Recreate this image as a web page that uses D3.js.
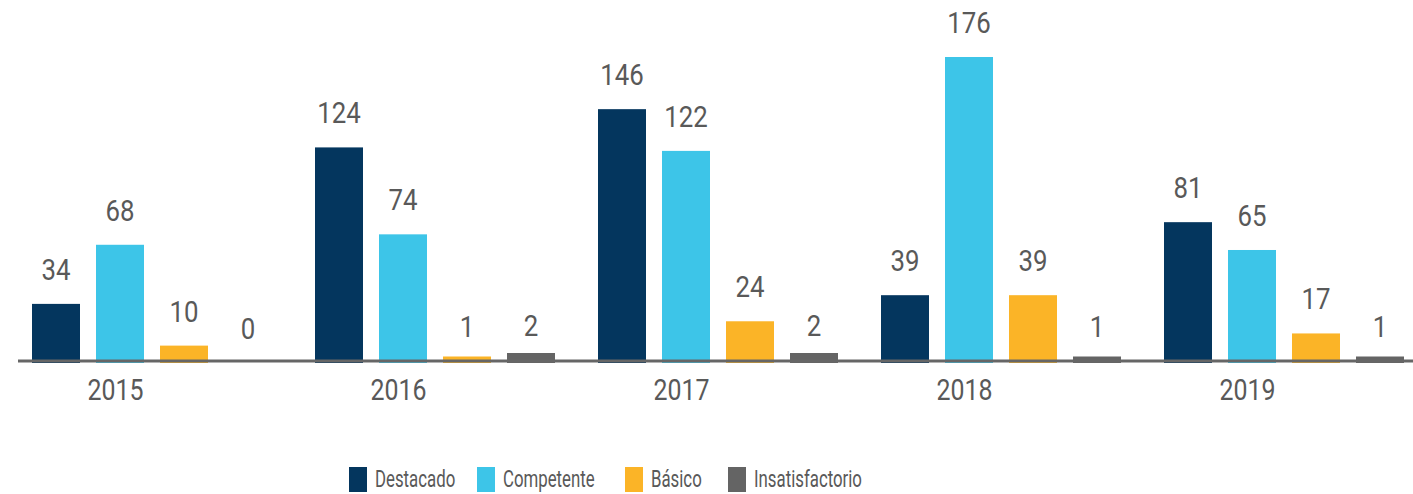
<!DOCTYPE html>
<html>
<head>
<meta charset="utf-8">
<script src="https://cdn.jsdelivr.net/npm/d3@7"></script>
<style>
  body { margin: 0; background: #fff; }
  svg text { font-family: "Roboto", "Liberation Sans", sans-serif; fill: #595959; }
</style>
</head>
<body>
<svg id="chart"></svg>
<script>
var width = 1413, height = 494

var years = ["2015", "2016", "2017", "2018", "2019"]
var series = ["Destacado", "Competente", "Básico", "Insatisfactorio"]
var destacado = [34, 124, 146, 39, 81]
var competente = [68, 74, 122, 176, 65]
var basico = [10, 1, 24, 39, 17]
var insatisfactorio = [0, 2, 2, 1, 1]
var colors = ["#04365e", "#3dc5e8", "#fbb427", "#646464"]

var values = [destacado, competente, basico, insatisfactorio]

var dataset = []
years.forEach(function(y, i) {
    series.forEach(function(s, j) {
        dataset.push({ year: y, serie: s, value: values[j][i], color: colors[j] })
    })
})

// squeeze text horizontally to look like the condensed font of the original
function condense(sel, k) {
    sel.each(function() {
        var l = this.getComputedTextLength()
        d3.select(this)
            .attr("textLength", l * k)
            .attr("lengthAdjust", "spacingAndGlyphs")
    })
}

var svg = d3.select("#chart")
    .attr("width", width)
    .attr("height", height)

var x0 = d3.scaleBand()
    .domain(years)
    .range([24, 24 + 283 * years.length])

var x1 = d3.scaleBand()
    .domain(series)
    .range([0, 256])
    .paddingInner(0.25)
    .paddingOuter(0.125)

var yScale = d3.scaleLinear()
    .domain([0, 176])
    .range([363, 57])

function barHeight(d) {
    var h = yScale(0) - yScale(d.value)
    if (d.value > 0 && h < 7) h = 3.5 * d.value + 3
    return h
}

// bars
svg.append("g")
    .selectAll("rect")
    .data(dataset)
    .enter()
    .append("rect")
    .attr("x", d => x0(d.year) + x1(d.serie))
    .attr("width", x1.bandwidth())
    .attr("y", d => yScale(0) - barHeight(d))
    .attr("height", barHeight)
    .style("fill", d => d.color)

// baseline
svg.append("line")
    .attr("x1", 18)
    .attr("x2", width)
    .attr("y1", 361)
    .attr("y2", 361)
    .style("stroke", "#666")
    .style("stroke-width", 3)

// value labels
svg.append("g")
    .selectAll("text")
    .data(dataset)
    .enter()
    .append("text")
    .attr("x", d => x0(d.year) + x1(d.serie) + x1.bandwidth() / 2)
    .attr("y", d => yScale(d.value) - 24)
    .style("text-anchor", "middle")
    .style("font-size", "30px")
    .text(d => d.value)
    .call(condense, 0.86)

// year labels
var xAxisGen = d3.axisBottom(x0).tickSize(0).tickPadding(0)
var xAxis = svg.append("g")
    .attr("class", "x-axis")
    .attr("transform", "translate(0,378)")
    .call(xAxisGen)
xAxis.select(".domain").remove()
xAxis.selectAll("text")
    .attr("dx", -50)
    .attr("dy", "0.72em")
    .style("font-size", "30px")
    .style("fill", "#595959")
    .style("font-family", "Roboto, sans-serif")
    .call(condense, 0.83)

// legend
var legendX = [349, 477, 625, 728]
var legend = svg.append("g")
    .selectAll("g")
    .data(series)
    .enter()
    .append("g")
    .attr("transform", (d, i) => "translate(" + legendX[i] + ",467)")

legend.append("rect")
    .attr("width", 18)
    .attr("height", 25)
    .style("fill", (d, i) => colors[i])

legend.append("text")
    .attr("x", 26)
    .attr("y", 20)
    .style("font-size", "24px")
    .text(d => d)
    .call(condense, 0.7)
</script>
</body>
</html>
